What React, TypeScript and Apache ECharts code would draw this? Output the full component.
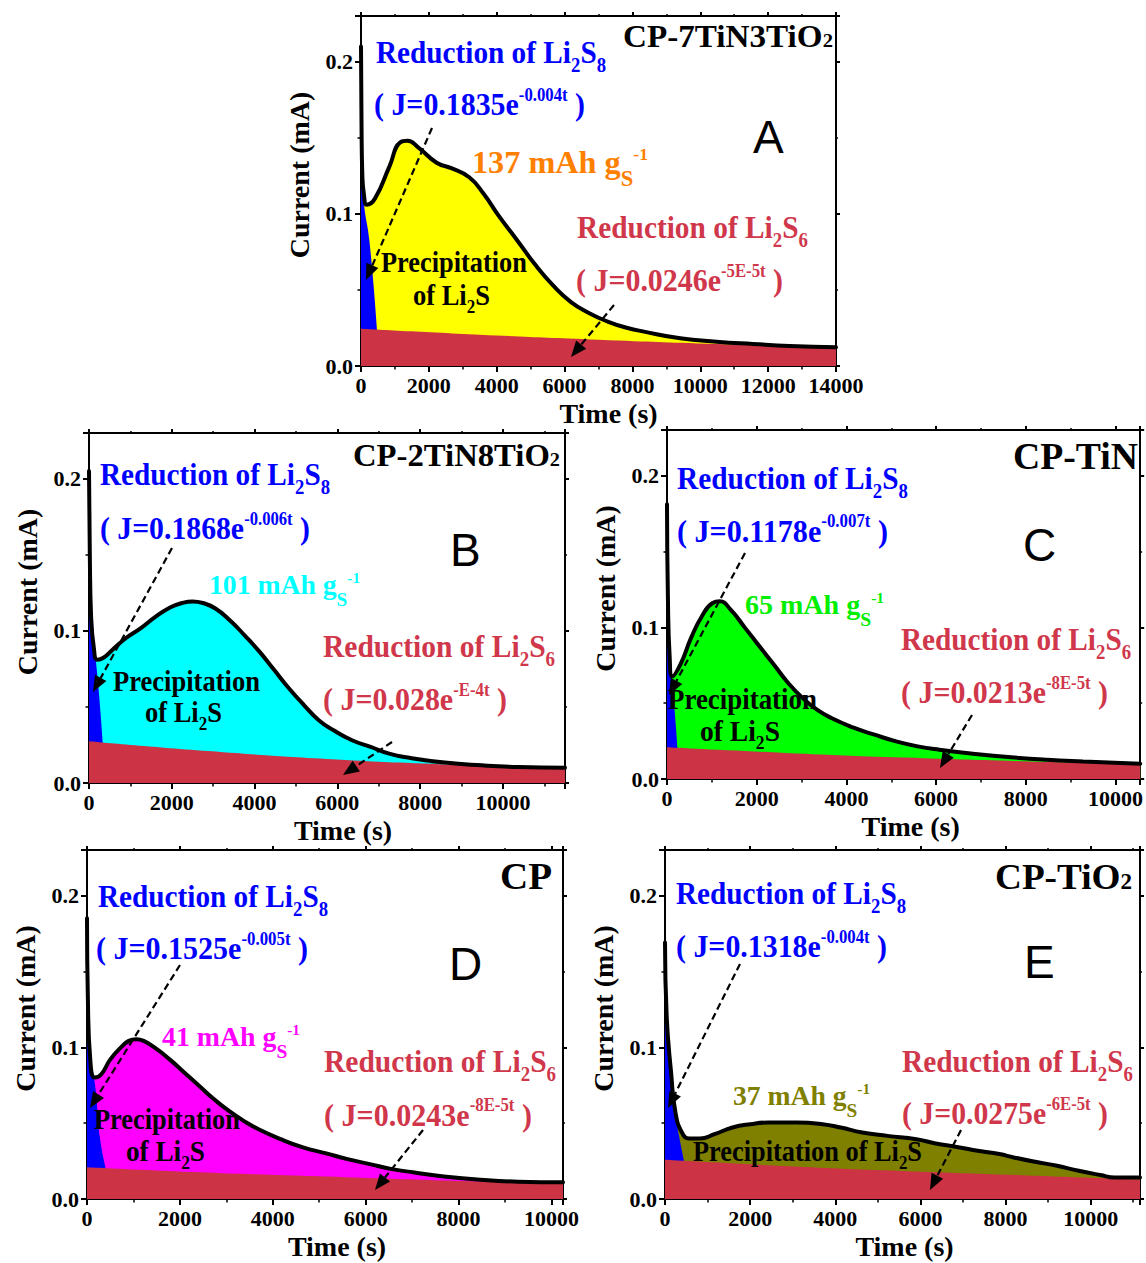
import React, { useEffect, useRef } from 'react';
import * as echarts from 'echarts';

const SERIF = '"Liberation Serif", "Times New Roman", serif';
const SANS = '"Liberation Sans", Arial, sans-serif';

// ---------------- data (time in s, current in mA) ----------------
// Panel A : CP-7TiN3TiO2
const timeA = [0, 15, 40, 90, 170, 410, 836, 1157, 1372, 1693, 2230, 2660, 3190, 3620, 4050, 4590, 5120, 5660, 6190, 6730, 7270, 7800, 8340, 9410, 10480, 11550, 12630, 14000];
const totalA = [0.21, 0.16, 0.125, 0.112, 0.106, 0.110, 0.131, 0.147, 0.148, 0.1435, 0.1336, 0.130, 0.124, 0.113, 0.099, 0.083, 0.067, 0.053, 0.042, 0.0347, 0.0292, 0.0253, 0.0226, 0.0182, 0.016, 0.0145, 0.0132, 0.0123];
const blueTA = [0, 30, 90, 245, 470];
const blueJA = [0.15, 0.13, 0.106, 0.083, 0.0243];
const redTA = [0, 3500, 7000, 10500, 14000];
const redJA = [0.0245, 0.0206, 0.0173, 0.0145, 0.0123];

// Panel B : CP-2TiN8TiO2
const timeB = [0, 20, 50, 120, 200, 358, 537, 895, 1253, 1611, 1970, 2250, 2500, 2750, 3044, 3402, 3760, 4118, 4476, 4834, 5193, 5551, 5909, 6356, 6804, 7252, 7699, 8594, 9490, 10385, 11500];
const totalB = [0.205, 0.15, 0.11, 0.088, 0.081, 0.0825, 0.0868, 0.0953, 0.1018, 0.1093, 0.1155, 0.1183, 0.1193, 0.1183, 0.1148, 0.107, 0.097, 0.0863, 0.0742, 0.0621, 0.0512, 0.0413, 0.0347, 0.0281, 0.0237, 0.0193, 0.0167, 0.0134, 0.0116, 0.0105, 0.0101];
const blueTB = [0, 50, 170, 330];
const blueJB = [0.14, 0.1, 0.079, 0.0272];
const redTB = [0, 2875, 5750, 8625, 11500];
const redJB = [0.0275, 0.021, 0.0158, 0.0122, 0.0093];

// Panel C : CP-TiN
const timeC = [0, 20, 60, 120, 297, 537, 778, 1018, 1179, 1419, 1740, 2061, 2382, 2702, 3023, 3344, 3665, 4146, 4627, 5108, 5590, 6070, 6872, 7674, 8476, 9278, 10550];
const totalC = [0.181, 0.12, 0.08, 0.0677, 0.0754, 0.093, 0.1073, 0.116, 0.1171, 0.1116, 0.0996, 0.0875, 0.0754, 0.0633, 0.0534, 0.0457, 0.0402, 0.034, 0.0292, 0.0248, 0.0215, 0.0193, 0.0165, 0.0143, 0.0127, 0.0116, 0.0101];
const blueTC = [0, 60, 120, 233];
const blueJC = [0.1, 0.074, 0.062, 0.0209];
const redTC = [0, 2640, 5280, 7920, 10550];
const redJC = [0.0209, 0.0172, 0.0141, 0.0117, 0.0096];

// Panel D : CP
const timeD = [0, 20, 70, 168, 303, 503, 742, 900, 1060, 1220, 1460, 1780, 2099, 2418, 2737, 3057, 3376, 3695, 4174, 4653, 5132, 5611, 6090, 6568, 7047, 7686, 8484, 9282, 10250];
const totalD = [0.185, 0.13, 0.092, 0.080, 0.082, 0.092, 0.1003, 0.1042, 0.1053, 0.1042, 0.0997, 0.092, 0.0832, 0.0745, 0.0657, 0.058, 0.0515, 0.046, 0.0394, 0.034, 0.0302, 0.0263, 0.023, 0.0197, 0.0175, 0.0149, 0.0127, 0.0114, 0.011];
const blueTD = [0, 70, 170, 280, 400];
const blueJD = [0.14, 0.09, 0.076, 0.04, 0.0208];
const redTD = [0, 2560, 5130, 7690, 10250];
const redJD = [0.021, 0.0175, 0.0148, 0.0122, 0.0101];

// Panel E : CP-TiO2
const timeE = [0, 40, 144, 246, 398, 568, 822, 1161, 1585, 2008, 2432, 3110, 3703, 4127, 4636, 5229, 5907, 6331, 6924, 7347, 7856, 8195, 8703, 9212, 9720, 10229, 10568, 11160];
const totalE = [0.169, 0.12, 0.083, 0.057, 0.0438, 0.0399, 0.0399, 0.0427, 0.0471, 0.0493, 0.0504, 0.0504, 0.0493, 0.0471, 0.0438, 0.0416, 0.0394, 0.0368, 0.034, 0.0318, 0.0296, 0.0274, 0.0245, 0.0219, 0.0186, 0.0158, 0.0142, 0.0142];
const blueTE = [0, 40, 144, 246, 340, 440];
const blueJE = [0.16, 0.115, 0.08, 0.055, 0.04, 0.026];
const redTE = [0, 2790, 5580, 8370, 11160];
const redJE = [0.0258, 0.0218, 0.0185, 0.0157, 0.0128];

const xMaxes = [14000, 11500, 10550, 10250, 11160];
const yMax = 0.23;
const xTickStep = 2000;
const yTickStep = 0.1;
const fillColors = ['#FFFF00', '#00FFFF', '#00FF00', '#FF00FF', '#808000'];
const capColors = ['#FF8000', '#00FFFF', '#00EE00', '#FF00FF', '#808000'];
const capacities = ['137', '101', '65', '41', '37'];
const sampleNames = ['CP-7TiN3TiO', 'CP-2TiN8TiO', 'CP-TiN', 'CP', 'CP-TiO'];
const sampleSub = ['2', '2', '', '', '2'];
const panelLetters = ['A', 'B', 'C', 'D', 'E'];
const s8Amp = ['0.1835', '0.1868', '0.1178', '0.1525', '0.1318'];
const s8Rate = ['-0.004t', '-0.006t', '-0.007t', '-0.005t', '-0.004t'];
const s6Amp = ['0.0246', '0.028', '0.0213', '0.0243', '0.0275'];
const s6Rate = ['-5E-5t', '-E-4t', '-8E-5t', '-8E-5t', '-6E-5t'];

const panels = [
  { time: timeA, total: totalA, bt: blueTA, bj: blueJA, rt: redTA, rj: redJA },
  { time: timeB, total: totalB, bt: blueTB, bj: blueJB, rt: redTB, rj: redJB },
  { time: timeC, total: totalC, bt: blueTC, bj: blueJC, rt: redTC, rj: redJC },
  { time: timeD, total: totalD, bt: blueTD, bj: blueJD, rt: redTD, rj: redJD },
  { time: timeE, total: totalE, bt: blueTE, bj: blueJE, rt: redTE, rj: redJE },
];

// ---------------- layout ----------------
const grids = [
  { left: 361, top: 16, width: 475, height: 350 },
  { left: 89, top: 433, width: 476, height: 350 },
  { left: 667, top: 430, width: 475, height: 349 },
  { left: 87, top: 850, width: 476, height: 349 },
  { left: 665, top: 850, width: 475, height: 349 },
];
const xNameShift = [10, 16, 7, 12, 2];
const yNameShift = 16;

const BLUE = '#0000FF';
const RED = '#CC3344';
const REDTXT = '#D0374B';
const ZTOP = 100;

type Seg = { t: string; k?: 'n' | 'sub' | 'sup' | 'small'; f?: number; d?: number };

let ctx: CanvasRenderingContext2D | null = null;
function measure(text: string, size: number, family: string, weight: string) {
  if (!ctx) ctx = document.createElement('canvas').getContext('2d');
  if (!ctx) return text.length * size * 0.5;
  ctx.font = `${weight} ${size}px ${family}`;
  return ctx.measureText(text).width;
}

function rich(x: number, base: number, segs: Seg[], size: number, color: string, targetW?: number, family = SERIF, weight = 'bold') {
  let cx = 0;
  const kids: any[] = [];
  for (const s of segs) {
    let f = 1, d = 0;
    if (s.k === 'sub') { f = 0.64; d = 0.28; }
    else if (s.k === 'sup') { f = 0.56; d = -0.44; }
    else if (s.k === 'small') { f = 0.62; d = 0; }
    if (s.f !== undefined) f = s.f;
    if (s.d !== undefined) d = s.d;
    const fs = size * f;
    kids.push({
      type: 'text', x: cx, y: d * size - 0.34 * fs, z: ZTOP,
      style: { text: s.t, fill: color, fontSize: fs, fontFamily: family, fontWeight: weight, align: 'left', verticalAlign: 'middle' },
    });
    cx += measure(s.t, fs, family, weight);
  }
  const sx = targetW ? targetW / cx : 1;
  return { type: 'group', x, y: base, scaleX: sx, z: ZTOP, children: kids };
}

function arrow(x1: number, y1: number, x2: number, y2: number) {
  const ang = Math.atan2(y2 - y1, x2 - x1);
  const L = 16, W = 6.5;
  const bx = x2 - L * Math.cos(ang), by = y2 - L * Math.sin(ang);
  const px = -Math.sin(ang) * W, py = Math.cos(ang) * W;
  return [
    { type: 'line', z: ZTOP, shape: { x1, y1, x2: bx, y2: by }, style: { stroke: '#000', lineWidth: 2.2, lineDash: [7, 4] } },
    { type: 'polygon', z: ZTOP, shape: { points: [[x2, y2], [bx + px, by + py], [bx - px, by - py]] }, style: { fill: '#000' } },
  ];
}

// text anchors: [x, baseline, width, size]
const titlePos = [[623, 47, 210, 32], [353, 466, 207, 31], [1013, 469, 125, 38], [500, 889, 52, 38], [995, 889, 137, 36]];
const s8Pos = [[376, 63, 230], [100, 485, 230], [677, 489, 231], [98, 907, 230], [676, 904, 230]];
const s8JPos = [[374, 115, 211], [100, 539, 210], [677, 542, 211], [96, 959, 212], [676, 957, 211]];
const letterPos = [[753, 153], [450, 566], [1023, 561], [449, 980], [1024, 978]];
const capPos = [[472, 173, 176, 32], [209, 594, 151, 28], [745, 614, 139, 28], [162, 1046, 138, 28], [733, 1105, 137, 28]];
const s6Pos = [[577, 238, 231], [323, 657, 232], [901, 650, 230], [324, 1072, 232], [902, 1072, 231]];
const s6JPos = [[576, 291, 207], [323, 710, 184], [901, 703, 207], [324, 1126, 208], [902, 1124, 206]];
const precipPos = [[381, 272, 146], [113, 691, 147], [668, 709, 149], [94, 1129, 146], [693, 1161, 229]];
const ofPos = [[413, 305, 77], [145, 722, 77], [700, 741, 80], [126, 1161, 79], null];
const arrow1 = [[432, 128, 366, 280], [172, 548, 93, 692], [745, 553, 669, 695], [180, 965, 90, 1108], [740, 964, 668, 1108]];
const arrow2 = [[614, 305, 571, 357], [392, 742, 343, 775], [972, 715, 940, 768], [423, 1130, 375, 1190], [961, 1130, 930, 1190]];

function buildOption() {
  const xAxis: any[] = [];
  const yAxis: any[] = [];
  const series: any[] = [];
  const elements: any[] = [];
  const axisText = { fontFamily: SERIF, fontWeight: 'bold', color: '#000' };
  const line = { show: true, onZero: false, lineStyle: { color: '#000', width: 2 } };
  const tick = { show: true, inside: false, length: 6, lineStyle: { color: '#000', width: 2 } };
  const minor = { show: true, splitNumber: 2, length: 3.5, lineStyle: { color: '#000', width: 1.5 } };

  panels.forEach((p, i) => {
    xAxis.push({
      type: 'value', gridIndex: i, position: 'bottom', min: 0, max: xMaxes[i], interval: xTickStep,
      name: 'Time (s)', nameLocation: 'middle', nameGap: 33,
      nameTextStyle: { ...axisText, fontSize: 28, padding: [0, 0, 0, 2 * xNameShift[i]] },
      axisLine: line, axisTick: tick, minorTick: minor, splitLine: { show: false },
      axisLabel: { ...axisText, fontSize: 22, margin: 8, formatter: (v: number) => (v % xTickStep === 0 ? String(v) : '') },
    });
    xAxis.push({
      type: 'value', gridIndex: i, position: 'top', min: 0, max: xMaxes[i], interval: xTickStep,
      axisLine: line, axisTick: { ...tick, length: 4 }, minorTick: { ...minor, length: 2 }, splitLine: { show: false }, axisLabel: { show: false },
    });
    yAxis.push({
      type: 'value', gridIndex: i, position: 'left', min: 0, max: yMax, interval: yTickStep,
      name: 'Current (mA)', nameLocation: 'middle', nameGap: 48,
      nameTextStyle: { ...axisText, fontSize: 28, padding: [0, 0, 0, 2 * yNameShift] },
      axisLine: line, axisTick: tick, minorTick: minor, splitLine: { show: false },
      axisLabel: { ...axisText, fontSize: 22, margin: 8, formatter: (v: number) => (Math.abs(v * 10 - Math.round(v * 10)) < 1e-6 ? v.toFixed(1) : '') },
    });
    yAxis.push({
      type: 'value', gridIndex: i, position: 'right', min: 0, max: yMax, interval: yTickStep,
      axisLine: line, axisTick: { ...tick, length: 4 }, minorTick: { ...minor, length: 2 }, splitLine: { show: false }, axisLabel: { show: false },
    });
    const xi = 2 * i, yi = 2 * i;
    const tot = p.time.map((t, k) => [t, p.total[k]]);
    const common = { type: 'line', xAxisIndex: xi, yAxisIndex: yi, showSymbol: false, symbol: 'none', silent: true, smooth: 0.5 };
    series.push({ ...common, data: tot, z: 1, lineStyle: { width: 0, opacity: 0 }, areaStyle: { color: fillColors[i], opacity: 1 } });
    series.push({ ...common, data: p.bt.map((t, k) => [t, p.bj[k]]), z: 2, lineStyle: { width: 0, opacity: 0 }, areaStyle: { color: BLUE, opacity: 1 } });
    series.push({ ...common, data: p.rt.map((t, k) => [t, p.rj[k]]), z: 3, lineStyle: { width: 0, opacity: 0 }, areaStyle: { color: RED, opacity: 1 } });
    series.push({ ...common, data: tot, z: 4, lineStyle: { width: 4, color: '#000', join: 'round', cap: 'round' } });

    // annotations
    const tp = titlePos[i];
    const tsegs: Seg[] = [{ t: sampleNames[i] }];
    if (sampleSub[i]) tsegs.push({ t: sampleSub[i], k: 'small' });
    elements.push(rich(tp[0], tp[1], tsegs, tp[3], '#000', tp[2]));
    const a = s8Pos[i];
    elements.push(rich(a[0], a[1], [{ t: 'Reduction of Li' }, { t: '2', k: 'sub' }, { t: 'S' }, { t: '8', k: 'sub' }], 32, BLUE, a[2]));
    const b = s8JPos[i];
    elements.push(rich(b[0], b[1], [{ t: '( J=' + s8Amp[i] + 'e' }, { t: s8Rate[i], k: 'sup' }, { t: ' )' }], 32, BLUE, b[2]));
    const c = capPos[i];
    elements.push(rich(c[0], c[1], [{ t: capacities[i] + ' mAh g' }, { t: 'S', k: 'sub', f: 0.7, d: 0.42 }, { t: '-1', k: 'sup', f: 0.55, d: -0.42 }], c[3], capColors[i], c[2]));
    const d = s6Pos[i];
    elements.push(rich(d[0], d[1], [{ t: 'Reduction of Li' }, { t: '2', k: 'sub' }, { t: 'S' }, { t: '6', k: 'sub' }], 32, REDTXT, d[2]));
    const e = s6JPos[i];
    elements.push(rich(e[0], e[1], [{ t: '( J=' + s6Amp[i] + 'e' }, { t: s6Rate[i], k: 'sup' }, { t: ' )' }], 32, REDTXT, e[2]));
    const pp = precipPos[i];
    if (i === 4) {
      elements.push(rich(pp[0], pp[1], [{ t: 'Precipitation of Li' }, { t: '2', k: 'sub' }, { t: 'S' }], 29, '#000', pp[2]));
    } else {
      elements.push(rich(pp[0], pp[1], [{ t: 'Precipitation' }], 29, '#000', pp[2]));
      const op = ofPos[i] as number[];
      elements.push(rich(op[0], op[1], [{ t: 'of Li' }, { t: '2', k: 'sub' }, { t: 'S' }], 29, '#000', op[2]));
    }
    const lp = letterPos[i];
    elements.push(rich(lp[0], lp[1], [{ t: panelLetters[i] }], 46, '#000', undefined, SANS, 'normal'));
    const a1 = arrow1[i];
    elements.push(...arrow(a1[0], a1[1], a1[2], a1[3]));
    const a2 = arrow2[i];
    elements.push(...arrow(a2[0], a2[1], a2[2], a2[3]));
  });

  return {
    animation: false,
    backgroundColor: '#fff',
    grid: grids.map((g) => ({ ...g, containLabel: false, show: false })),
    xAxis, yAxis, series,
    graphic: { elements },
  };
}

export default function App() {
  const ref = useRef<HTMLDivElement>(null);
  useEffect(() => {
    if (!ref.current) return;
    const chart = echarts.init(ref.current, null, { renderer: 'svg' });
    chart.setOption(buildOption() as any);
    return () => chart.dispose();
  }, []);
  return <div ref={ref} style={{ position: 'absolute', left: 0, top: 0, width: 1146, height: 1263, background: '#fff' }} />;
}
